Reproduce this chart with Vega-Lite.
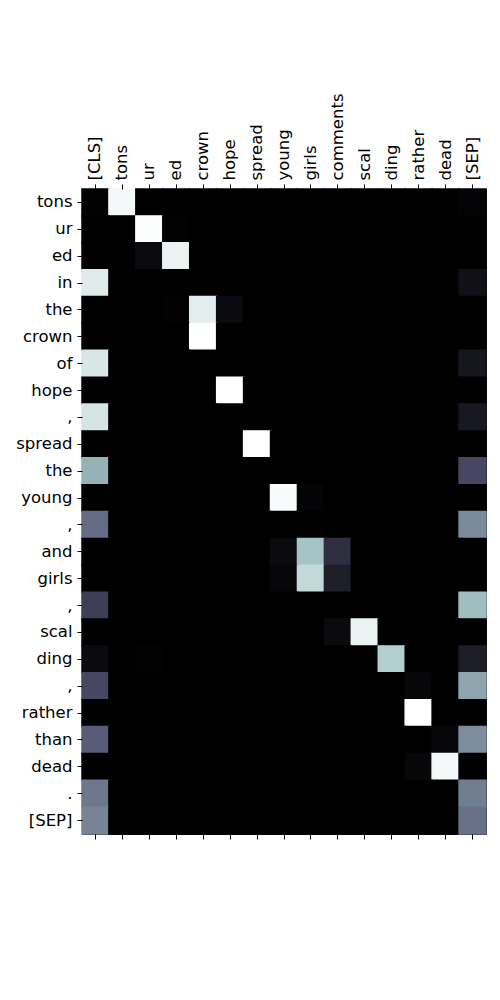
{
  "$schema": "https://vega.github.io/schema/vega-lite/v6.json",
  "autosize": {"type": "none"},
  "width": 404,
  "height": 645,
  "padding": {"left": 82, "top": 189, "right": 14, "bottom": 166},
  "background": "white",
  "config": {
    "view": {"stroke": "black", "strokeWidth": 1},
    "font": "DejaVu Sans",
    "axis": {"labelFont": "DejaVu Sans", "labelFontSize": 16.5, "labelColor": "black", "tickColor": "black", "tickSize": 5, "domain": false, "grid": false, "title": null, "labelPadding": 4}
  },
  "data": {"values": [
    {"i": 0, "CLS": 0.01, "tons": 0.97, "ur": 0, "ed": 0, "crown": 0, "hope": 0, "spread": 0, "young": 0, "girls": 0, "comments": 0, "scal": 0, "ding": 0, "rather": 0, "dead": 0, "SEP": 0.02},
    {"i": 1, "CLS": 0, "tons": 0, "ur": 0.99, "ed": 0.01, "crown": 0, "hope": 0, "spread": 0, "young": 0, "girls": 0, "comments": 0, "scal": 0, "ding": 0, "rather": 0, "dead": 0, "SEP": 0},
    {"i": 2, "CLS": 0, "tons": 0, "ur": 0.05, "ed": 0.94, "crown": 0, "hope": 0, "spread": 0, "young": 0, "girls": 0, "comments": 0, "scal": 0, "ding": 0, "rather": 0, "dead": 0, "SEP": 0},
    {"i": 3, "CLS": 0.91, "tons": 0, "ur": 0, "ed": 0, "crown": 0, "hope": 0, "spread": 0, "young": 0, "girls": 0, "comments": 0, "scal": 0, "ding": 0, "rather": 0, "dead": 0, "SEP": 0.07},
    {"i": 4, "CLS": 0, "tons": 0, "ur": 0, "ed": 0.01, "crown": 0.92, "hope": 0.05, "spread": 0, "young": 0, "girls": 0, "comments": 0, "scal": 0, "ding": 0, "rather": 0, "dead": 0, "SEP": 0},
    {"i": 5, "CLS": 0, "tons": 0, "ur": 0, "ed": 0, "crown": 1.0, "hope": 0, "spread": 0, "young": 0, "girls": 0, "comments": 0, "scal": 0, "ding": 0, "rather": 0, "dead": 0, "SEP": 0},
    {"i": 6, "CLS": 0.89, "tons": 0, "ur": 0, "ed": 0, "crown": 0, "hope": 0, "spread": 0, "young": 0, "girls": 0, "comments": 0, "scal": 0, "ding": 0, "rather": 0, "dead": 0, "SEP": 0.1},
    {"i": 7, "CLS": 0, "tons": 0, "ur": 0, "ed": 0, "crown": 0, "hope": 1.0, "spread": 0, "young": 0, "girls": 0, "comments": 0, "scal": 0, "ding": 0, "rather": 0, "dead": 0, "SEP": 0},
    {"i": 8, "CLS": 0.88, "tons": 0, "ur": 0, "ed": 0, "crown": 0, "hope": 0, "spread": 0, "young": 0, "girls": 0, "comments": 0, "scal": 0, "ding": 0, "rather": 0, "dead": 0, "SEP": 0.11},
    {"i": 9, "CLS": 0, "tons": 0, "ur": 0, "ed": 0, "crown": 0, "hope": 0, "spread": 1.0, "young": 0, "girls": 0, "comments": 0, "scal": 0, "ding": 0, "rather": 0, "dead": 0, "SEP": 0},
    {"i": 10, "CLS": 0.68, "tons": 0, "ur": 0, "ed": 0, "crown": 0, "hope": 0, "spread": 0, "young": 0, "girls": 0, "comments": 0, "scal": 0, "ding": 0, "rather": 0, "dead": 0, "SEP": 0.32},
    {"i": 11, "CLS": 0, "tons": 0, "ur": 0, "ed": 0, "crown": 0, "hope": 0, "spread": 0, "young": 0.98, "girls": 0.02, "comments": 0, "scal": 0, "ding": 0, "rather": 0, "dead": 0, "SEP": 0},
    {"i": 12, "CLS": 0.45, "tons": 0, "ur": 0, "ed": 0, "crown": 0, "hope": 0, "spread": 0, "young": 0, "girls": 0, "comments": 0, "scal": 0, "ding": 0, "rather": 0, "dead": 0, "SEP": 0.55},
    {"i": 13, "CLS": 0, "tons": 0, "ur": 0, "ed": 0, "crown": 0, "hope": 0, "spread": 0, "young": 0.05, "girls": 0.74, "comments": 0.21, "scal": 0, "ding": 0, "rather": 0, "dead": 0, "SEP": 0},
    {"i": 14, "CLS": 0, "tons": 0, "ur": 0, "ed": 0, "crown": 0, "hope": 0, "spread": 0, "young": 0.03, "girls": 0.83, "comments": 0.14, "scal": 0, "ding": 0, "rather": 0, "dead": 0, "SEP": 0},
    {"i": 15, "CLS": 0.28, "tons": 0, "ur": 0, "ed": 0, "crown": 0, "hope": 0, "spread": 0, "young": 0, "girls": 0, "comments": 0, "scal": 0, "ding": 0, "rather": 0, "dead": 0, "SEP": 0.72},
    {"i": 16, "CLS": 0, "tons": 0, "ur": 0, "ed": 0, "crown": 0, "hope": 0, "spread": 0, "young": 0, "girls": 0, "comments": 0.05, "scal": 0.94, "ding": 0, "rather": 0, "dead": 0, "SEP": 0},
    {"i": 17, "CLS": 0.05, "tons": 0, "ur": 0.01, "ed": 0, "crown": 0, "hope": 0, "spread": 0, "young": 0, "girls": 0, "comments": 0, "scal": 0, "ding": 0.78, "rather": 0, "dead": 0, "SEP": 0.13},
    {"i": 18, "CLS": 0.32, "tons": 0, "ur": 0, "ed": 0, "crown": 0, "hope": 0, "spread": 0, "young": 0, "girls": 0, "comments": 0, "scal": 0, "ding": 0, "rather": 0.03, "dead": 0, "SEP": 0.64},
    {"i": 19, "CLS": 0, "tons": 0, "ur": 0, "ed": 0, "crown": 0, "hope": 0, "spread": 0, "young": 0, "girls": 0, "comments": 0, "scal": 0, "ding": 0, "rather": 1.0, "dead": 0, "SEP": 0},
    {"i": 20, "CLS": 0.4, "tons": 0, "ur": 0, "ed": 0, "crown": 0, "hope": 0, "spread": 0, "young": 0, "girls": 0, "comments": 0, "scal": 0, "ding": 0, "rather": 0, "dead": 0.03, "SEP": 0.56},
    {"i": 21, "CLS": 0, "tons": 0, "ur": 0, "ed": 0, "crown": 0, "hope": 0, "spread": 0, "young": 0, "girls": 0, "comments": 0, "scal": 0, "ding": 0, "rather": 0.03, "dead": 0.97, "SEP": 0},
    {"i": 22, "CLS": 0.49, "tons": 0, "ur": 0, "ed": 0, "crown": 0, "hope": 0, "spread": 0, "young": 0, "girls": 0, "comments": 0, "scal": 0, "ding": 0, "rather": 0, "dead": 0, "SEP": 0.51},
    {"i": 23, "CLS": 0.53, "tons": 0, "ur": 0, "ed": 0, "crown": 0, "hope": 0, "spread": 0, "young": 0, "girls": 0, "comments": 0, "scal": 0, "ding": 0, "rather": 0, "dead": 0, "SEP": 0.47}
  ]},
  "transform": [
    {"fold": ["CLS", "tons", "ur", "ed", "crown", "hope", "spread", "young", "girls", "comments", "scal", "ding", "rather", "dead", "SEP"], "as": ["col", "v"]}
  ],
  "resolve": {"axis": {"x": "independent"}},
  "layer": [
    {
      "mark": {"type": "rect", "strokeWidth": 1.5},
      "encoding": {
        "x": {"field": "col", "type": "nominal",
          "sort": ["CLS", "tons", "ur", "ed", "crown", "hope", "spread", "young", "girls", "comments", "scal", "ding", "rather", "dead", "SEP"],
          "scale": {"paddingInner": 0, "paddingOuter": 0},
          "axis": {"orient": "top", "labelAngle": -90, "labelAlign": "left", "labelBaseline": "middle",
            "labelExpr": "datum.value == 'CLS' ? '[CLS]' : datum.value == 'SEP' ? '[SEP]' : datum.value"}},
        "y": {"field": "i", "type": "ordinal",
          "scale": {"paddingInner": 0, "paddingOuter": 0},
          "axis": {"orient": "left", "labelAlign": "right", "labelBaseline": "middle", "labelPadding": 5,
            "labelExpr": "['tons','ur','ed','in','the','crown','of','hope',',','spread','the','young',',','and','girls',',','scal','ding',',','rather','than','dead','.','[SEP]'][datum.value]"}},
        "color": {"field": "v", "type": "quantitative",
          "scale": {"domain": [0, 0.365, 0.746, 1], "range": ["#000000", "#515171", "#a6c6c6", "#ffffff"], "interpolate": "rgb"},
          "legend": null},
        "stroke": {"field": "v", "type": "quantitative",
          "scale": {"domain": [0, 0.365, 0.746, 1], "range": ["#000000", "#515171", "#a6c6c6", "#ffffff"], "interpolate": "rgb"},
          "legend": null}
      }
    },
    {
      "mark": {"type": "rect", "strokeWidth": 0, "opacity": 0},
      "encoding": {
        "x": {"field": "col", "type": "nominal",
          "sort": ["CLS", "tons", "ur", "ed", "crown", "hope", "spread", "young", "girls", "comments", "scal", "ding", "rather", "dead", "SEP"],
          "axis": {"orient": "bottom", "labels": false}},
        "y": {"field": "i", "type": "ordinal"}
      }
    }
  ]
}
